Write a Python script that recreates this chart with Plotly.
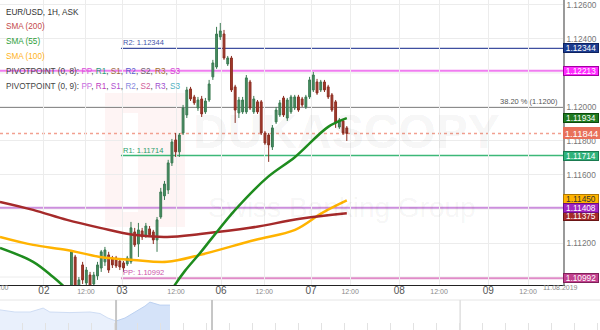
import plotly.graph_objects as go

FONT = "Liberation Sans, Arial, sans-serif"

# ---------------- data ----------------
candle_start_hour = 19.2   # hour index of first candle on the axis
opens = [1.10953, 1.11118, 1.10936, 1.11071, 1.10965, 1.11012, 1.10959, 1.11006, 1.11053, 1.11089,
         1.11130, 1.11112, 1.11112, 1.11094, 1.11083, 1.11077, 1.11089, 1.11265, 1.11194, 1.11271,
         1.11242, 1.11283, 1.11265, 1.11218, 1.11353, 1.11477, 1.11512, 1.11671, 1.11806, 1.11736,
         1.11847, 1.11953, 1.12106, 1.12059, 1.11994, 1.12047, 1.11971, 1.12041, 1.12177, 1.12235,
         1.12412, 1.12429, 1.12253, 1.12288, 1.12118, 1.11965, 1.11971, 1.11971, 1.12147, 1.11971,
         1.12030, 1.12030, 1.11847, 1.11835, 1.11765, 1.11912, 1.11953, 1.12053, 1.11935, 1.11971,
         1.11994, 1.12059, 1.12047, 1.12000, 1.12059, 1.12100, 1.12147, 1.12100, 1.12147, 1.12118,
         1.12071, 1.12030, 1.11882, 1.11918, 1.11877]
highs = [1.11159, 1.11130, 1.11000, 1.11089, 1.11059, 1.11030, 1.11030, 1.11089, 1.11159, 1.11177,
         1.11148, 1.11124, 1.11124, 1.11106, 1.11094, 1.11124, 1.11324, 1.11289, 1.11318, 1.11289,
         1.11318, 1.11300, 1.11277, 1.11353, 1.11524, 1.11565, 1.11689, 1.11812, 1.11847, 1.11847,
         1.12012, 1.12118, 1.12118, 1.12071, 1.12059, 1.12065, 1.12053, 1.12159, 1.12277, 1.12471,
         1.12494, 1.12453, 1.12300, 1.12300, 1.12130, 1.12059, 1.12059, 1.12188, 1.12159, 1.12065,
         1.12041, 1.12041, 1.11859, 1.11847, 1.11894, 1.12000, 1.12041, 1.12065, 1.12053, 1.12071,
         1.12071, 1.12071, 1.12059, 1.12071, 1.12177, 1.12206, 1.12165, 1.12159, 1.12159, 1.12130,
         1.12082, 1.12041, 1.11935, 1.11924, 1.11888]
lows = [1.10912, 1.10912, 1.10912, 1.10959, 1.10948, 1.10924, 1.10936, 1.10983, 1.11030, 1.11065,
        1.11024, 1.11053, 1.11053, 1.11041, 1.11030, 1.11065, 1.11077, 1.11177, 1.11118, 1.11218,
        1.11230, 1.11236, 1.11194, 1.11148, 1.11342, 1.11453, 1.11488, 1.11653, 1.11706, 1.11706,
        1.11835, 1.11935, 1.12035, 1.12012, 1.11977, 1.11941, 1.11959, 1.12030, 1.12159, 1.12224,
        1.12394, 1.12277, 1.12241, 1.12088, 1.11906, 1.11935, 1.11959, 1.11959, 1.11982, 1.11959,
        1.11959, 1.11835, 1.11777, 1.11677, 1.11747, 1.11900, 1.11941, 1.11941, 1.11918, 1.11959,
        1.11982, 1.11971, 1.12000, 1.11988, 1.12047, 1.12088, 1.12071, 1.12088, 1.12088, 1.12047,
        1.11971, 1.11877, 1.11871, 1.11835, 1.11800]
closes = [1.11148, 1.10936, 1.10983, 1.10983, 1.11041, 1.10942, 1.11012, 1.11071, 1.11148, 1.11159,
          1.11041, 1.11071, 1.11065, 1.11059, 1.11053, 1.11112, 1.11289, 1.11189, 1.11277, 1.11236,
          1.11300, 1.11248, 1.11218, 1.11336, 1.11500, 1.11547, 1.11671, 1.11794, 1.11736, 1.11835,
          1.11994, 1.12100, 1.12047, 1.12024, 1.12041, 1.11959, 1.12035, 1.12135, 1.12259, 1.12429,
          1.12447, 1.12288, 1.12288, 1.12100, 1.11982, 1.12041, 1.12041, 1.12171, 1.11994, 1.12047,
          1.11971, 1.11847, 1.11788, 1.11777, 1.11877, 1.11982, 1.12024, 1.11953, 1.12041, 1.12059,
          1.12059, 1.11982, 1.12012, 1.12059, 1.12159, 1.12188, 1.12082, 1.12147, 1.12100, 1.12059,
          1.11982, 1.11906, 1.11924, 1.11847, 1.11844]

sma200_h = [0, 8.9, 18.0, 26.9, 35.8, 44.9, 53.8, 67.2, 80.6, 93.2]
sma200_v = [1.11442, 1.11395, 1.11336, 1.11289, 1.11248, 1.11236, 1.11253, 1.11289, 1.11342, 1.11375]
sma100_h = [0, 8.9, 18.0, 26.9, 35.8, 44.9, 53.8, 68.5, 79.3, 86.6, 93.2]
sma100_v = [1.11236, 1.11189, 1.11159, 1.11118, 1.11100, 1.11089, 1.11130, 1.11218, 1.11277, 1.11377, 1.11450]
sma55_h = [0, 8.9, 14.2, 18.8, 29.6, 37.6, 44.4, 47.0, 49.7, 53.8, 57.0, 63.2, 72.0, 79.3, 88.2, 93.2]
sma55_v = [1.11171, 1.11089, 1.11001, 1.10912, 1.10689, 1.10689, 1.10865, 1.10954, 1.11036, 1.11142,
           1.11230, 1.11395, 1.11589, 1.11706, 1.11883, 1.11934]

pivot9_start_hour = 32.5
pivot9_levels = {"R2": 1.12344, "R1": 1.11714, "PP": 1.10992}
pivot8_pp = 1.12213
pivot8_level = 1.11408
fib_382 = 1.12000
last_price = 1.11844
sma_last = {"SMA55": 1.11934, "SMA100": 1.11450, "SMA200": 1.11375}

y_label_ticks = [1.112, 1.116, 1.118, 1.120, 1.124, 1.126]
y_hidden_grid = [1.110, 1.114, 1.122]

tick_hours = [11.8, 23.1, 32.8, 47.3, 59.4, 71.0, 83.6, 94.1, 107.3, 118.0, 131.2, 141.9]
tick_labels = ["02", "12:00", "03", "12:00", "06", "12:00", "07", "12:00", "08", "12:00", "09", "12:00"]
end_date_label = "11.08.2019"

nav1_h = [0, 4.0, 8.1, 11.6, 13.4, 18.8, 24.2, 26.9, 29.0, 31.2]
nav1_v = [0.67, 0.60, 0.60, 0.73, 0.60, 0.58, 0.60, 0.55, 0.40, 0.30]
nav2_h = [31.2, 33.6, 36.3, 39.0, 40.3, 43.0, 45.7]
nav2_v = [0.30, 0.40, 0.60, 0.80, 0.93, 0.83, 0.83]
nav_separators = [31.2, 57.0, 123.7]

x_range = [0, 151.3]
y_range = [1.10953, 1.12629]

# ---------------- figure ----------------
x_candle = [candle_start_hour + i for i in range(len(opens))]

fig = go.Figure()

fig.add_trace(go.Candlestick(
    x=x_candle, open=opens, high=highs, low=lows, close=closes,
    increasing=dict(line=dict(color="#3b7a52", width=1), fillcolor="#478f62"),
    decreasing=dict(line=dict(color="#8b2e22", width=1), fillcolor="#a53a2c"),
    whiskerwidth=0, hoverinfo="skip", xaxis="x", yaxis="y"))

for hx, vy, col in [(sma100_h, sma100_v, "#ffb300"),
                    (sma200_h, sma200_v, "#a52a2a"),
                    (sma55_h, sma55_v, "#1e8c1e")]:
    fig.add_trace(go.Scatter(x=hx, y=vy, mode="lines", hoverinfo="skip",
                             line=dict(color=col, width=2.5, shape="spline", smoothing=1.0),
                             xaxis="x", yaxis="y"))

# navigator
fig.add_trace(go.Scatter(x=nav1_h, y=nav1_v, mode="lines", fill="tozeroy",
                         fillcolor="#e9f0fc", line=dict(color="#cfddf4", width=1),
                         hoverinfo="skip", xaxis="x2", yaxis="y2"))
fig.add_trace(go.Scatter(x=nav2_h, y=nav2_v, mode="lines", fill="tozeroy",
                         fillcolor="#d5e3f9", line=dict(color="#bcd1f1", width=1),
                         hoverinfo="skip", xaxis="x2", yaxis="y2"))

shapes = []
# watermark logo
shapes.append(dict(type="rect", xref="paper", yref="paper", x0=105/600, x1=185/600,
                   y0=1-227/330, y1=1-93/330, fillcolor="rgba(230,60,60,0.06)", line=dict(width=0), layer="below"))
shapes.append(dict(type="rect", xref="paper", yref="paper", x0=122/600, x1=138/600,
                   y0=1-212/330, y1=1-113/330, fillcolor="white", line=dict(width=0), layer="below"))

for g in y_hidden_grid:
    shapes.append(dict(type="line", xref="x domain", yref="y", x0=0, x1=1, y0=g, y1=g,
                       line=dict(color="#ececec", width=1), layer="below"))

def hline(y, color, width, dash="solid", start=None):
    if start is None:
        return dict(type="line", xref="x domain", yref="y", x0=0, x1=1, y0=y, y1=y,
                    line=dict(color=color, width=width, dash=dash), layer="below")
    return dict(type="line", xref="x", yref="y", x0=start, x1=x_range[1], y0=y, y1=y,
                line=dict(color=color, width=width, dash=dash), layer="below")

shapes += [
    hline(pivot8_pp, "#f07df0", 2),
    hline(pivot8_level, "#cc8fdd", 2),
    hline(fib_382, "#666666", 1.5),
    hline(last_price, "#f2a090", 1.5, "dot"),
    hline(pivot9_levels["R2"], "#3f4fa0", 1.2, start=pivot9_start_hour),
    hline(pivot9_levels["R1"], "#3cb878", 1.5, start=pivot9_start_hour),
    hline(pivot9_levels["PP"], "#e08cc8", 2, start=pivot9_start_hour),
]
# navigator decorations
shapes.append(dict(type="line", xref="paper", yref="paper", x0=0, x1=1, y0=30/330, y1=30/330,
                   line=dict(color="#e6e6e6", width=1)))
for i, s in enumerate(nav_separators):
    shapes.append(dict(type="line", xref="x2", yref="paper", x0=s, x1=s, y0=0, y1=30/330,
                       line=dict(color="#c6c6c6" if i < 2 else "#e0e0e0", width=2 if i < 2 else 1.5)))

ann = []
# watermark text
ann.append(dict(text="<b>DUKASCOPY</b>", xref="paper", yref="paper", x=346/600, y=1-131/330,
                showarrow=False, font=dict(family=FONT, size=48, color="rgba(0,0,0,0.055)")))
ann.append(dict(text="Swiss Banking Group", xref="paper", yref="paper", x=342/600, y=1-207/330,
                showarrow=False, font=dict(family=FONT, size=28, color="rgba(0,0,0,0.055)")))

# legend texts
legend_lines = [
    ("EUR/USD, 1H, ASK", "#333333"),
    ("SMA (200)", "#c44a4a"),
    ("SMA (55)", "#2e9e3a"),
    ("SMA (100)", "#ffb31a"),
]
p8 = [("PP", "#d94fd9"), ("R1", "#2c9c78"), ("S1", "#9b6b3f"), ("R2", "#5a5acd"),
      ("S2", "#6b5b6b"), ("R3", "#a0702e"), ("S3", "#d43fd4")]
p9 = [("PP", "#c86fe0"), ("R1", "#c03cc0"), ("S1", "#b050d0"), ("R2", "#8a8ae0"),
      ("S2", "#d0609a"), ("R3", "#a050d0"), ("S3", "#50b0c0")]

def multi(prefix, parts):
    return prefix + ", ".join('<span style="color:%s">%s</span>' % (c, t) for t, c in parts)

legend_texts = [('<span style="color:%s">%s</span>' % (c, t)) for t, c in legend_lines]
legend_texts.append(multi("PIVOTPOINT (0, 8): ", p8))
legend_texts.append(multi("PIVOTPOINT (0, 9): ", p9))
legend_y = [12.3, 26.9, 42.0, 56.7, 71.7, 86.7]
for t, py in zip(legend_texts, legend_y):
    ann.append(dict(text=t, xref="paper", yref="paper", x=4/600, y=1-py/330, xanchor="left",
                    yanchor="middle", showarrow=False, font=dict(family=FONT, size=8.2, color="#444444")))

# pivot labels
piv_colors = {"R2": "#4455aa", "R1": "#2a9d6a", "PP": "#cc55aa"}
for k, v in pivot9_levels.items():
    ann.append(dict(text="%s: %.5f" % (k, v), xref="x", yref="y", x=pivot9_start_hour, y=v,
                    xanchor="left", yanchor="bottom", showarrow=False, yshift=-1,
                    font=dict(family=FONT, size=7.5, color=piv_colors[k])))
ann.append(dict(text="38.20 %% (%.4f)" % fib_382, xref="x domain", yref="y", x=0.995, y=fib_382,
                xanchor="right", yanchor="bottom", showarrow=False, yshift=-1,
                font=dict(family=FONT, size=7.5, color="#555555")))

# right-side value boxes
boxes = [
    (pivot9_levels["R2"], "#1c3c8f", "#0d2260", "white", 0),
    (pivot8_pp, "#ff2aff", "#a000a0", "white", 0),
    (sma_last["SMA55"], "#1f7a1f", "#0c4a0c", "white", 0),
    (pivot9_levels["R1"], "#2fb27a", "#1a7a50", "white", 0),
    (sma_last["SMA100"], "#ffb300", "#b07800", "#333333", 1.5),
    (sma_last["SMA200"], "#a52a2a", "#6a1515", "white", -2.5),
    (pivot8_level, "#a224c0", "#6a1080", "white", 0),
    (pivot9_levels["PP"], "#c2418e", "#80205a", "white", 0),
]
for v, bg, bc, fc, ys in boxes:
    ann.append(dict(text="%.5f" % v, xref="paper", yref="y", x=563/600, y=v, xanchor="left",
                    yanchor="middle", showarrow=False, bgcolor=bg, bordercolor=bc, borderwidth=1,
                    borderpad=0, width=34, height=8, align="center", yshift=ys,
                    font=dict(family=FONT, size=8.3, color=fc)))
ann.append(dict(text="%.5f" % last_price, xref="paper", yref="y", x=563/600, y=last_price,
                xanchor="left", yanchor="middle", showarrow=False, bgcolor="#e8705a",
                bordercolor="#e8705a", borderwidth=0, borderpad=0, width=37, height=12,
                font=dict(family=FONT, size=9.5, color="white")))

# partial tick label at left edge and end date
ann.append(dict(text="12:00", xref="paper", yref="paper", x=-11/600, y=1-293/330, showarrow=False,
                font=dict(family=FONT, size=7, color="#888888")))
ann.append(dict(text=end_date_label, xref="paper", yref="paper", x=580/600, y=1-293/330,
                showarrow=False, font=dict(family=FONT, size=7, color="#888888")))

ticktext = [('<span style="font-size:10px;color:#555555">%s</span>' % t) if ":" not in t else t
            for t in tick_labels]

fig.update_layout(
    width=600, height=330, margin=dict(l=0, r=0, t=0, b=0),
    paper_bgcolor="white", plot_bgcolor="white", showlegend=False,
    font=dict(family=FONT),
    xaxis=dict(domain=[0, 563/600], range=x_range, anchor="y", tickvals=tick_hours,
               ticktext=ticktext, showgrid=True, gridcolor="#ececec", gridwidth=1,
               showline=True, linecolor="#222222", linewidth=1, zeroline=False, ticks="",
               tickfont=dict(family=FONT, size=7, color="#888888"),
               rangeslider=dict(visible=False)),
    yaxis=dict(domain=[45/330, 1], range=y_range, anchor="x", side="right",
               tickvals=y_label_ticks, tickformat=".5f", showgrid=True, gridcolor="#ececec",
               showline=True, linecolor="#9a9a9a", linewidth=1.5, zeroline=False, ticks="",
               ticklabeloverflow="allow",
               tickfont=dict(family=FONT, size=8.3, color="#777777")),
    xaxis2=dict(domain=[0, 1], anchor="y2", range=[0, 161.3], showgrid=False, zeroline=False,
                showticklabels=False, ticks="inside", ticklen=7, tickcolor="#e2e2e2",
                tick0=55.6, dtick=6.18, showline=False),
    yaxis2=dict(domain=[0, 30/330], range=[0, 1], visible=False),
    shapes=shapes, annotations=ann,
)

fig.write_html("out.html")
